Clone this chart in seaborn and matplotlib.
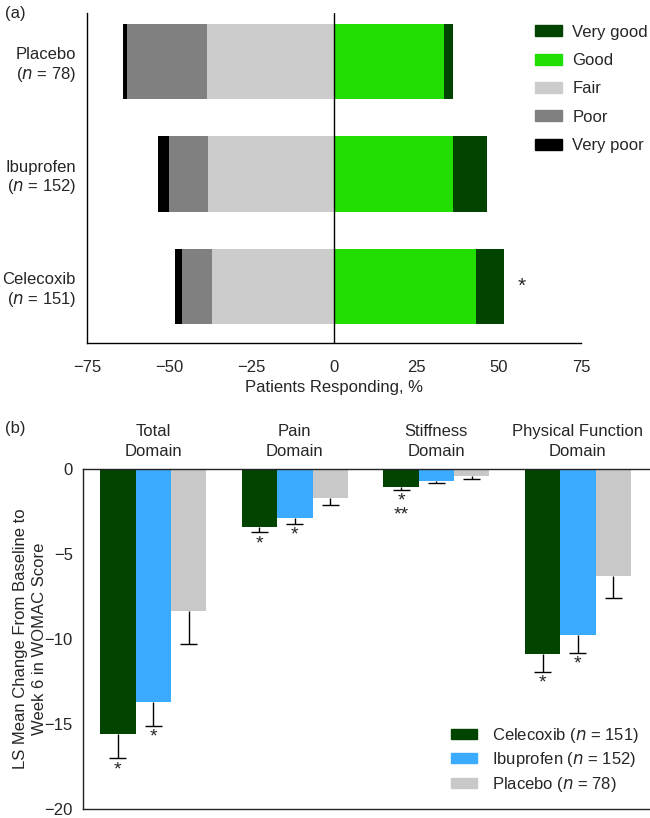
import matplotlib
matplotlib.use("Agg")
import matplotlib.pyplot as plt
from matplotlib.patches import Patch
import seaborn as sns
import numpy as np
import pandas as pd

# panel (a) data, % of patients per rating
groups = ["Placebo", "Ibuprofen", "Celecoxib"]
group_n = [78, 152, 151]
very_good = [2.7, 10.4, 8.5]
good = [33.4, 36.1, 43.2]
fair = [38.5, 38.4, 37.1]
poor = [24.3, 11.8, 9.2]
very_poor = [1.3, 3.4, 2.1]

# panel (b) data, LS mean change and SE
domains = ["Total\nDomain", "Pain\nDomain", "Stiffness\nDomain", "Physical Function\nDomain"]
drugs = ["Celecoxib", "Ibuprofen", "Placebo"]
drug_n = [151, 152, 78]
ls_mean = {
    "Celecoxib": [-15.6, -3.41, -1.10, -10.9],
    "Ibuprofen": [-13.72, -2.88, -0.72, -9.8],
    "Placebo": [-8.39, -1.71, -0.43, -6.31],
}
ls_err = {
    "Celecoxib": [1.44, 0.33, 0.13, 1.04],
    "Ibuprofen": [1.42, 0.36, 0.12, 1.02],
    "Placebo": [1.92, 0.43, 0.16, 1.30],
}
stars = {
    "Celecoxib": ["*", "*", "*\n**", "*"],
    "Ibuprofen": ["*", "*", "", "*"],
    "Placebo": ["", "", "", ""],
}

sns.set_style("white")
plt.rcParams["font.family"] = ["Liberation Sans", "DejaVu Sans"]
plt.rcParams["font.size"] = 12

c_vgood, c_good, c_fair, c_poor, c_vpoor = "#004400", "#22dd00", "#cccccc", "#808080", "#000000"
drug_colors = ["#004400", "#3aabff", "#c8c8c8"]

fig = plt.figure(figsize=(6.5, 8.18), dpi=100)

# ---------- panel (a)
ax1 = fig.add_axes([0.134, 0.5807, 0.76, 0.4034])
fa = np.array(fair)
po = np.array(poor)
vp = np.array(very_poor)
gd = np.array(good)
vg = np.array(very_good)
dfa = pd.DataFrame({"group": groups})
layers = [
    (-(fa + po + vp), c_vpoor),
    (-(fa + po), c_poor),
    (-fa, c_fair),
    (gd + vg, c_vgood),
    (gd, c_good),
]
for vals, col in layers:
    sns.barplot(x=vals, y=dfa["group"], orient="h", color=col, width=0.67,
                ax=ax1, errorbar=None, linewidth=0, saturation=1)
ax1.axvline(0, color="black", lw=1)
ax1.set_xlim(-75, 75)
ax1.set_ylim(2.5, -0.43)
ax1.set_xticks([-75, -50, -25, 0, 25, 50, 75])
ax1.set_xticklabels(["\u221275", "\u221250", "\u221225", "0", "25", "50", "75"])
ax1.set_yticks(range(3))
ax1.set_yticklabels([f"{g}\n($n$ = {n})" for g, n in zip(groups, group_n)],
                    ha="right", multialignment="right")
ax1.set_ylabel("")
ax1.set_xlabel("Patients Responding, %", fontsize=12, labelpad=4)
for s in ["top", "right"]:
    ax1.spines[s].set_visible(False)
for s in ["left", "bottom"]:
    ax1.spines[s].set_color("black")
    ax1.spines[s].set_linewidth(1)
ax1.tick_params(axis="x", direction="out", length=5, width=1, color="black", pad=7)
ax1.tick_params(axis="y", length=0, pad=8)
ax1.text(57, 2, "*", ha="center", va="center", fontsize=15)
handles = [Patch(color=c, label=l) for c, l in
           [(c_vgood, "Very good"), (c_good, "Good"), (c_fair, "Fair"),
            (c_poor, "Poor"), (c_vpoor, "Very poor")]]
ax1.legend(handles=handles, loc="upper left", bbox_to_anchor=(0.876, 1.01), frameon=False,
           handlelength=1.6, handleheight=0.65, labelspacing=0.8, handletextpad=0.65,
           fontsize=12)
fig.text(0.008, 0.983, "(a)", fontsize=12, va="center")

# ---------- panel (b)
ax2 = fig.add_axes([0.127, 0.0114, 0.871, 0.4156])
rows = []
for d in drugs:
    for i, dom in enumerate(domains):
        rows.append({"domain": dom, "drug": d, "value": ls_mean[d][i],
                     "err": ls_err[d][i], "star": stars[d][i]})
dfb = pd.DataFrame(rows)
sns.barplot(data=dfb, x="domain", y="value", hue="drug", order=domains, hue_order=drugs,
            palette=drug_colors, width=0.75, gap=0, errorbar=None, saturation=1,
            linewidth=0, ax=ax2, legend=False)
bw = 0.25
for j, d in enumerate(drugs):
    for i in range(len(domains)):
        x = i + (j - 1) * bw
        v = ls_mean[d][i]
        e = ls_err[d][i]
        ax2.vlines(x, v, v - e, color="black", lw=1)
        ax2.hlines(v - e, x - 0.06, x + 0.06, color="black", lw=1)
        if stars[d][i]:
            ax2.annotate(stars[d][i], (x, v - e), xytext=(0, -2), textcoords="offset points",
                         ha="center", va="top", fontsize=14, linespacing=0.8)
ax2.set_xlim(-0.5, 3.5)
ax2.set_ylim(-20, 0)
ax2.set_yticks([-20, -15, -10, -5, 0])
ax2.set_yticklabels(["\u221220", "\u221215", "\u221210", "\u22125", "0"])
ax2.set_xlabel("")
ax2.xaxis.tick_top()
ax2.tick_params(axis="x", length=0, pad=7)
ax2.set_xticks(range(4))
ax2.set_xticklabels(domains, fontsize=12, linespacing=1.4)
ax2.set_ylabel("LS Mean Change From Baseline to\nWeek 6 in WOMAC Score", fontsize=12,
               linespacing=1.35)
ax2.yaxis.set_label_coords(-0.062, 0.5)
ax2.spines["right"].set_visible(False)
for s in ["left", "bottom", "top"]:
    ax2.spines[s].set_color("#222222")
    ax2.spines[s].set_linewidth(1)
ax2.tick_params(axis="y", direction="out", length=5, width=1, color="black", pad=2)
handles_b = [Patch(color=c, label=f"{d} ($n$ = {n})") for c, d, n in zip(drug_colors, drugs, drug_n)]
ax2.legend(handles=handles_b, loc="lower right", bbox_to_anchor=(1.01, 0.0), frameon=False,
           handlelength=1.6, handleheight=0.55, labelspacing=0.32, handletextpad=0.9,
           fontsize=12)
fig.text(0.008, 0.476, "(b)", fontsize=12, va="center")

fig.savefig("out.png", dpi=100)
